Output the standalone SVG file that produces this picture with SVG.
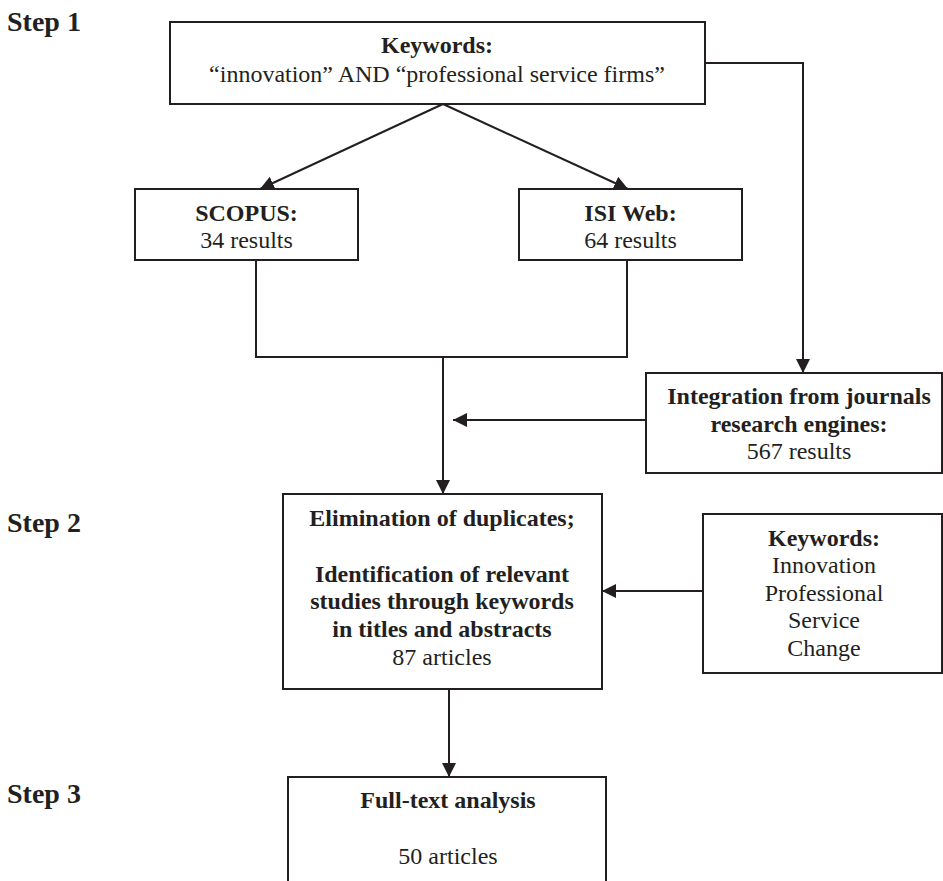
<svg xmlns="http://www.w3.org/2000/svg" width="943" height="881" viewBox="0 0 943 881">
<style>
text{font-family:"Liberation Serif","Times New Roman",serif;font-size:24px;fill:#231f20;text-anchor:middle}
.b{font-weight:bold}
.step{font-size:28px;font-weight:bold;text-anchor:start}
.box{fill:#fff;stroke:#231f20;stroke-width:2}
.ln{fill:none;stroke:#231f20;stroke-width:2}
</style>
<defs>
<marker id="ah" markerUnits="userSpaceOnUse" markerWidth="14" markerHeight="14" refX="14" refY="7" orient="auto" viewBox="0 0 14 14">
<path d="M0,0 L14,7 L0,14 z" fill="#231f20"/>
</marker>
</defs>
<rect width="943" height="881" fill="#fff"/>
<g id="steps">
<text class="step" x="7" y="31">Step 1</text>
<text class="step" x="7" y="532">Step 2</text>
<text class="step" x="7" y="803">Step 3</text>
</g>
<g id="connectors">
<line class="ln" x1="443" y1="104" x2="260" y2="189" marker-end="url(#ah)"/>
<line class="ln" x1="443" y1="104" x2="628" y2="189" marker-end="url(#ah)"/>
<polyline class="ln" points="705,63 803,63 803,373" marker-end="url(#ah)"/>
<polyline class="ln" points="256,260 256,357 627,357 627,260"/>
<line class="ln" x1="443" y1="357" x2="443" y2="494" marker-end="url(#ah)"/>
<line class="ln" x1="646" y1="420" x2="453" y2="420" marker-end="url(#ah)"/>
<line class="ln" x1="703" y1="591" x2="602" y2="591" marker-end="url(#ah)"/>
<line class="ln" x1="449" y1="689" x2="449" y2="777" marker-end="url(#ah)"/>
</g>
<g id="keywords-top">
<rect class="box" x="170" y="22" width="535" height="82"/>
<text class="b" x="437" y="53">Keywords:</text>
<text x="437" y="82">“innovation” AND “professional service firms”</text>
</g>
<g id="scopus">
<rect class="box" x="135" y="189" width="223" height="71"/>
<text class="b" x="246.5" y="221">SCOPUS:</text>
<text x="246.5" y="248">34 results</text>
</g>
<g id="isi">
<rect class="box" x="519" y="189" width="223" height="71"/>
<text class="b" x="630.5" y="221">ISI Web:</text>
<text x="630.5" y="248">64 results</text>
</g>
<g id="integration">
<rect class="box" x="646" y="373" width="296" height="100"/>
<text class="b" x="799" y="404">Integration from journals</text>
<text class="b" x="799" y="432">research engines:</text>
<text x="799" y="459">567 results</text>
</g>
<g id="elimination">
<rect class="box" x="283" y="494" width="319" height="195"/>
<text class="b" x="442" y="526">Elimination of duplicates;</text>
<text class="b" x="442" y="582">Identification of relevant</text>
<text class="b" x="442" y="609">studies through keywords</text>
<text class="b" x="442" y="637">in titles and abstracts</text>
<text x="442" y="665">87 articles</text>
</g>
<g id="keywords-list">
<rect class="box" x="703" y="514" width="239" height="159"/>
<text class="b" x="824" y="546">Keywords:</text>
<text x="824" y="573">Innovation</text>
<text x="824" y="601">Professional</text>
<text x="824" y="628">Service</text>
<text x="824" y="656">Change</text>
</g>
<g id="fulltext">
<rect class="box" x="288" y="777" width="318" height="120"/>
<text class="b" x="448" y="808">Full-text analysis</text>
<text x="448" y="864">50 articles</text>
</g>
</svg>
